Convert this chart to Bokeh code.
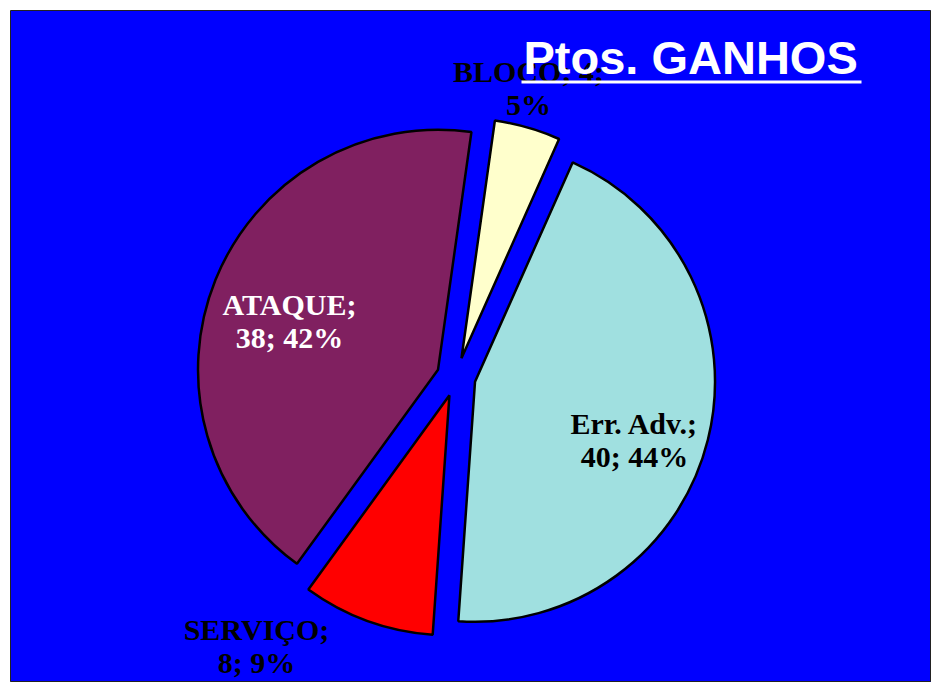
import math
from bokeh.plotting import figure
from bokeh.models import Range1d, ColumnDataSource
from bokeh.core.properties import value
from bokeh.embed import file_html
from bokeh.resources import INLINE

# ---- data ----
categories = ["BLOCO", "Err. Adv.", "SERVIÇO", "ATAQUE"]
values = [4, 40, 8, 38]
pct_labels = ["5%", "44%", "9%", "42%"]
colors = ["#FFFFCC", "#A0E0E0", "#FF0000", "#802060"]
label_colors = ["black", "black", "black", "white"]
title_text = "Ptos. GANHOS"

# ---- layout (picture pixel coords, y measured downwards) ----
W, H = 931, 682
def Y(py):
    return H - py

cx, cy = 455.6, Y(376.5)
radius = 240
explode = 19.5
first_angle = 8.0  # degrees clockwise from 12 o'clock

total = sum(values)
xs, ys, starts, ends = [], [], [], []
a = first_angle
for v in values:
    span = v / total * 360.0
    b = a + span / 2
    xs.append(cx + explode * math.sin(math.radians(b)))
    ys.append(cy + explode * math.cos(math.radians(b)))
    starts.append(math.radians(90 - (a + span)))
    ends.append(math.radians(90 - a))
    a += span

p = figure(width=W, height=H, output_backend="svg", toolbar_location=None,
           x_range=Range1d(10, W), y_range=Range1d(0, Y(10)),
           min_border_left=10, min_border_top=10, min_border_right=0, min_border_bottom=0)
p.axis.visible = False
p.grid.visible = False
p.background_fill_color = "#0000FF"
p.border_fill_color = "white"
p.outline_line_color = "#222222"
p.outline_line_width = 1

src = ColumnDataSource(dict(x=xs, y=ys, start=starts, end=ends, color=colors))
p.wedge(x="x", y="y", radius=radius, start_angle="start", end_angle="end",
        direction="anticlock", fill_color="color", line_color="black", line_width=2.5,
        source=src)

# data labels: centre x and vertical middle of first line
label_pos = {
    "BLOCO": (528, 71),
    "Err. Adv.": (634, 423),
    "SERVIÇO": (256, 629),
    "ATAQUE": (289, 304),
}
line_gap = 33
lx, ly, lt, lc = [], [], [], []
for cat, v, pct, col in zip(categories, values, pct_labels, label_colors):
    x0, m0 = label_pos[cat]
    if cat == "BLOCO":
        l1, l2 = f"{cat}; {v};", pct
    else:
        l1, l2 = f"{cat};", f"{v}; {pct}"
    for i, t in enumerate((l1, l2)):
        lx.append(x0)
        ly.append(Y(m0 + i * line_gap))
        lt.append(t)
        lc.append(col)

p.text(x=lx, y=ly, text=lt, text_color=lc, text_align="center",
       text_baseline="middle", text_font=value("Liberation Serif"),
       text_font_style="bold", text_font_size="30px")

# title (drawn over the BLOCO label as in the original)
p.text(x=[523], y=[Y(57)], text=[title_text], text_color="white",
       text_align="left", text_baseline="middle",
       text_font=value("Liberation Sans"), text_font_style="bold",
       text_font_size="47px")
p.segment(x0=[521], y0=[Y(81.5)], x1=[861], y1=[Y(81.5)], line_color="white",
          line_width=3)

open("out.html", "w").write(file_html(p, INLINE))
